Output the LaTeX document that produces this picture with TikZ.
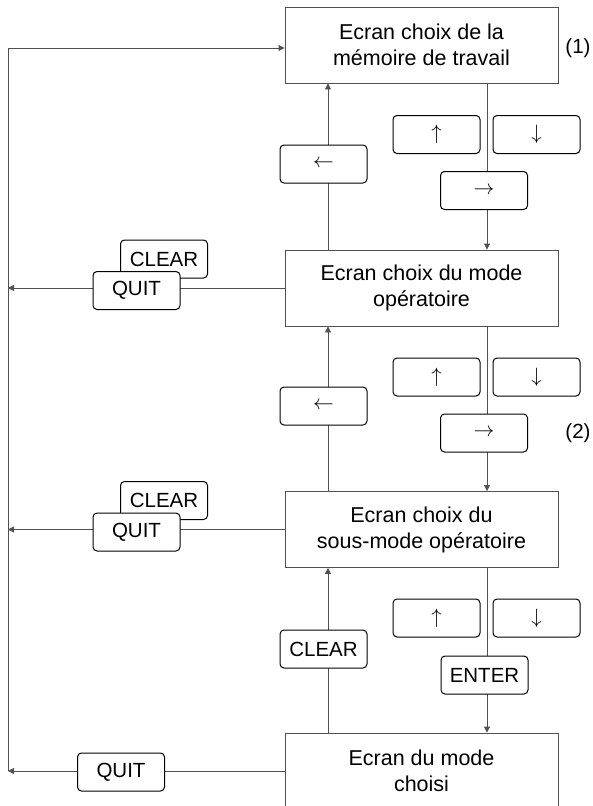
\documentclass[tikz,border=0pt]{standalone}
\usepackage{fontspec}
\setmainfont{Liberation Sans}
\usetikzlibrary{arrows.meta,positioning}
\definecolor{linex}{HTML}{505050}
\tikzset{
  ar/.style={-{Triangle[length=6pt,width=6pt]},line width=0.9pt,linex},
  ln/.style={line width=0.9pt,linex},
  scr/.style={draw=linex,line width=0.9pt,fill=white,minimum width=273pt,minimum height=76pt,
    align=center,inner sep=0pt,font=\fontsize{21.5}{26}\selectfont},
  kbd/.style={draw=black,line width=1pt,rounded corners=4pt,fill=white,minimum width=87pt,
    minimum height=38pt,inner sep=0pt,font=\fontsize{20.5}{24}\selectfont},
  num/.style={font=\fontsize{20.5}{24}\selectfont}
}
\begin{document}
\begin{tikzpicture}[x=1pt,y=-1pt]
\useasboundingbox (0,0) rectangle (592,806);
% screens
\node[scr] (s1) at (421.5,45) {Ecran choix de la\\mémoire de travail};
\node[scr] (s2) at (421.5,288) {Ecran choix du mode\\opératoire};
\node[scr] (s3) at (421.5,529.5) {Ecran choix du\\sous-mode opératoire};
\node[scr] (s4) at (421.5,771) {Ecran du mode\\choisi};
\node[num] (n1) at (578,48) {(1)};
\node[num] (n2) at (578,433) {(2)};
% helper points
\coordinate (lft) at (8,48);
\coordinate (up) at (328,0);
\coordinate (dn) at (487,0);
% return path on the left
\draw[ln] (lft) -- (s4.west -| lft);
\draw[ar] (lft) -- (lft -| s1.west);
\draw[ar] (s2.west) -- (s2.west -| lft);
\draw[ar] (s3.west) -- (s3.west -| lft);
\draw[ar] (s4.west) -- (s4.west -| lft);
% going up
\draw[ar] (s2.north -| up) -- (s1.south -| up);
\draw[ar] (s3.north -| up) -- (s2.south -| up);
\draw[ar] (s4.north -| up) -- (s3.south -| up);
% going down
\draw[ar] (s1.south -| dn) -- (s2.north -| dn);
\draw[ar] (s2.south -| dn) -- (s3.north -| dn);
\draw[ar] (s3.south -| dn) -- (s4.north -| dn);
% keys, first step
\node[kbd] (b1) at (323.5,164) {$\leftarrow$};
\node[kbd] (h1) at (436.5,134.5) {$\uparrow$};
\node[kbd] (d1) at (536.5,134.5) {$\downarrow$};
\node[kbd] (r1) at (484,190.5) {$\rightarrow$};
\node[kbd] (c1) at (164,259) {CLEAR};
\node[kbd] (q1) at (136.5,290.5) {QUIT};
% keys, second step
\node[kbd] (b2) at (323.5,406) {$\leftarrow$};
\node[kbd] (h2) at (436.5,377) {$\uparrow$};
\node[kbd] (d2) at (536.5,377) {$\downarrow$};
\node[kbd] (r2) at (484,433) {$\rightarrow$};
\node[kbd] (c2) at (164,500.5) {CLEAR};
\node[kbd] (q2) at (136.5,532) {QUIT};
% keys, third step
\node[kbd] (b3) at (323.5,649) {CLEAR};
\node[kbd] (h3) at (436.5,618) {$\uparrow$};
\node[kbd] (d3) at (536.5,618) {$\downarrow$};
\node[kbd] (e3) at (484.5,675) {ENTER};
\node[kbd] (q3) at (121,772) {QUIT};
\end{tikzpicture}
\end{document}
